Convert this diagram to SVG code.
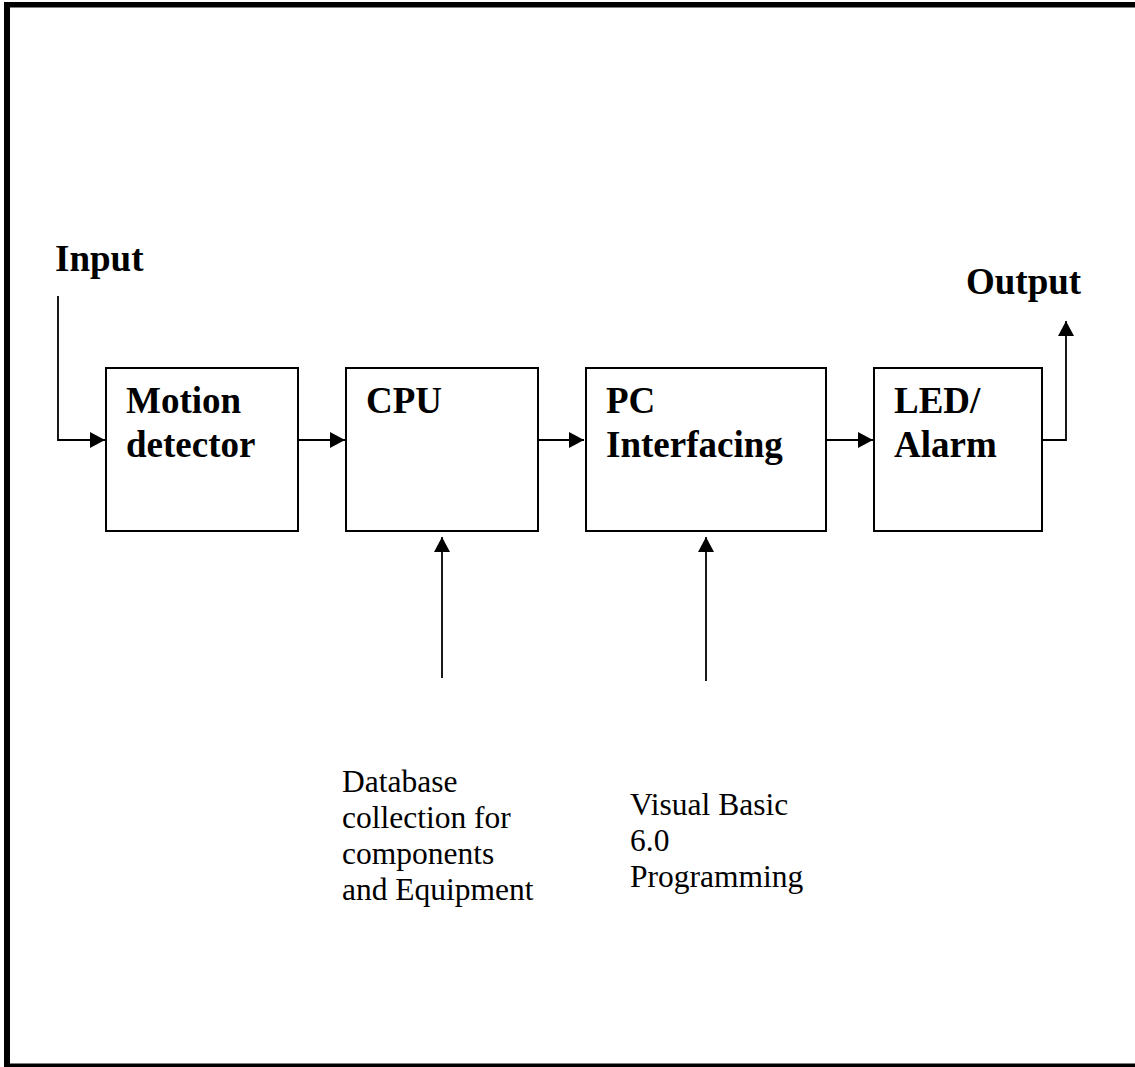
<svg xmlns="http://www.w3.org/2000/svg" width="1135" height="1067" viewBox="0 0 1135 1067">
<defs>
<marker id="ah" markerUnits="userSpaceOnUse" markerWidth="16" markerHeight="16" viewBox="0 0 15 16" refX="15" refY="8" orient="auto">
<path d="M0,0 L15,8 L0,16 Z" fill="#000"/>
</marker>
<style>
.box{fill:#fff;stroke:#000;stroke-width:2}
.lbl{font-family:"Liberation Serif","Times New Roman",serif;font-weight:bold;font-size:37px;fill:#000}
.note{font-family:"Liberation Serif","Times New Roman",serif;font-size:31.5px;fill:#000}
.con{fill:none;stroke:#000;stroke-width:1.8}
.arr{marker-end:url(#ah)}
</style>
</defs>
<rect width="1135" height="1067" fill="#fff"/>
<g id="frame" fill="#000">
<rect x="4" y="2" width="1131" height="5.5"/>
<rect x="4" y="2" width="6" height="1065"/>
<rect x="4" y="1063.5" width="1131" height="3.5"/>
</g>
<g id="connectors">
<path class="con arr" d="M58,296 V440 H105"/>
<path class="con arr" d="M298,440 H345"/>
<path class="con arr" d="M538,440 H584"/>
<path class="con arr" d="M826,440 H873"/>
<path class="con arr" d="M1042,440 H1066 V321"/>
<path class="con arr" d="M442,678 V537"/>
<path class="con arr" d="M706,681 V537"/>
</g>
<g id="input-label"><text class="lbl" x="55" y="271">Input</text></g>
<g id="output-label"><text class="lbl" x="966" y="294">Output</text></g>
<g id="motion-detector">
<rect class="box" x="106" y="368" width="192" height="163"/>
<text class="lbl" x="126" y="413">Motion</text>
<text class="lbl" x="126" y="457">detector</text>
</g>
<g id="cpu">
<rect class="box" x="346" y="368" width="192" height="163"/>
<text class="lbl" x="366" y="413">CPU</text>
</g>
<g id="pc-interfacing">
<rect class="box" x="586" y="368" width="240" height="163"/>
<text class="lbl" x="606" y="413">PC</text>
<text class="lbl" x="606" y="457">Interfacing</text>
</g>
<g id="led-alarm">
<rect class="box" x="874" y="368" width="168" height="163"/>
<text class="lbl" x="894" y="413">LED/</text>
<text class="lbl" x="894" y="457">Alarm</text>
</g>
<g id="database-note">
<text class="note" x="342" y="792">Database</text>
<text class="note" x="342" y="828">collection for</text>
<text class="note" x="342" y="864">components</text>
<text class="note" x="342" y="900">and Equipment</text>
</g>
<g id="vb-note">
<text class="note" x="630" y="815">Visual Basic</text>
<text class="note" x="630" y="851">6.0</text>
<text class="note" x="630" y="887">Programming</text>
</g>
</svg>
